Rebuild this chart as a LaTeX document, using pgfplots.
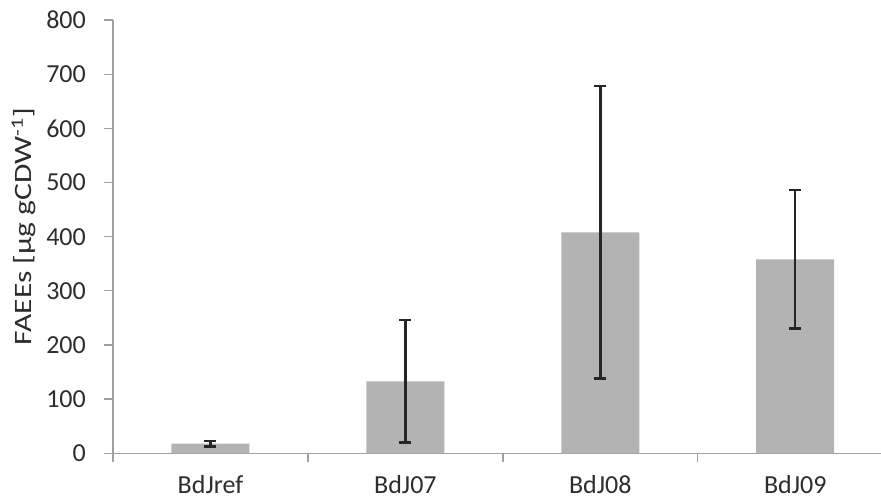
\documentclass[border=0pt]{standalone}
\usepackage{pgfplots}
\pgfplotsset{compat=1.18}
\usepackage{fontspec}
\setmainfont{Carlito}
\definecolor{barg}{RGB}{179,179,180}
\definecolor{axg}{RGB}{160,160,160}
\definecolor{txt}{RGB}{45,45,45}
\begin{document}
\begin{tikzpicture}[x=1pt,y=1pt]
\begin{axis}[
  at={(0,0)}, anchor=south west,
  scale only axis, width=768pt, height=433.3pt,
  xmin=-0.5, xmax=3.44, ymin=0, ymax=800,
  axis x line*=bottom, axis y line*=left,
  axis line style={-, color=axg, line width=1.3pt},
  ytick={0,100,...,800},
  xtick={0,1,2,3},
  xticklabels={BdJref,BdJ07,BdJ08,BdJ09},
  minor xtick={-0.5,0.5,1.5,2.5},
  tick align=outside,
  major tick length=9pt,
  minor tick length=9pt,
  x tick style={draw=none},
  minor x tick style={draw=axg, line width=1.3pt},
  y tick style={draw=axg, line width=1.3pt},
  /pgf/number format/assume math mode=true,
  tick label style={font=\fontsize{26}{30}\selectfont, text=txt},
  yticklabel style={anchor=east, inner sep=0pt, xshift=-18pt},
  xticklabel style={anchor=north, inner sep=0pt, yshift=-13pt},
  ylabel={\scalebox{1.26}[1]{FAEEs [µg gCDW\textsuperscript{-1}]}},
  ylabel style={font=\fontsize{25}{30}\selectfont, text=txt, at={(axis description cs:-0.1055,0.523)}, anchor=base, rotate=0},
]
\addplot[ybar, bar width=78pt, fill=barg, draw=none,
  error bars/.cd, y dir=both, y explicit,
  error bar style={line width=2.5pt, color=black!85},
  error mark options={rotate=90, mark size=6pt, line width=2.5pt, color=black!85}]
  table[x=x, y=y, y error=e] {
x y e
0 18 5
1 133 113
2 408 270
3 358 128
};
\end{axis}
\pgfresetboundingbox
\useasboundingbox (-113pt,-47.7pt) rectangle (768pt,453.3pt);
\end{tikzpicture}
\end{document}
